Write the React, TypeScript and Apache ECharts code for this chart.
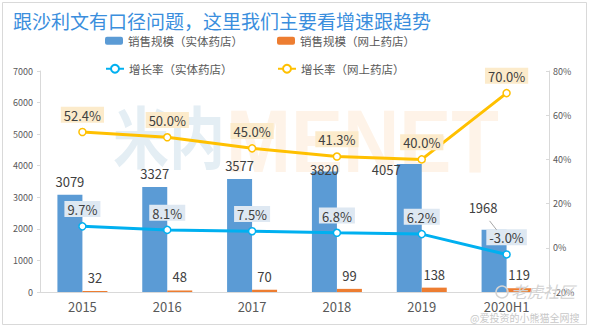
import React, { useEffect, useRef } from "react";
import * as echarts from "echarts";

const categories = ["2015", "2016", "2017", "2018", "2019", "2020H1"];
const salesPhysical = [3079, 3327, 3577, 3820, 4057, 1968];
const salesOnline = [32, 48, 70, 99, 138, 119];
const growthPhysical = [9.7, 8.1, 7.5, 6.8, 6.2, -3.0];
const growthOnline = [52.4, 50.0, 45.0, 41.3, 40.0, 70.0];
const leftTicks = { min: 0, max: 7000, interval: 1000 };
const rightTicks = { min: -20, max: 80, interval: 20 };

const FONT = "'Noto Sans CJK SC', 'Noto Sans', sans-serif";

export default function App() {
  const ref = useRef<HTMLDivElement>(null);
  useEffect(() => {
    if (!ref.current) return;
    const chart = echarts.init(ref.current, undefined, { renderer: "svg" });
    const legendText = { fontSize: 11.5, color: "#595959", fontFamily: FONT };
    const pctLabel = (bg: string) => ({
      show: true,
      position: "top",
      distance: 5,
      formatter: (p: any) => Number(p.value).toFixed(1) + "%",
      fontSize: 13,
      color: "#404040",
      fontFamily: FONT,
      backgroundColor: bg,
      padding: [2, 3, 1, 3],
    });
    const graphics: any[] = [
      {
        type: "rect",
        z: -10,
        shape: { x: 2.5, y: 2.5, width: 584, height: 322 },
        style: { fill: "none", stroke: "#D9D9D9", lineWidth: 1 },
      },
      {
        type: "text",
        z: -10,
        x: 113,
        y: 100,
        scaleY: 1.2,
        style: { text: "米内", font: "bold 56px 'Noto Sans CJK SC'", fill: "#E4EEF4" },
      },
      {
        type: "text",
        z: -10,
        x: 226,
        y: 96,
        scaleY: 1.15,
        style: { text: "MENET", font: "bold 78px 'Liberation Sans'", fill: "#FEF3E8" },
      },
      {
        type: "circle",
        z: 50,
        shape: { cx: 502, cy: 292, r: 6 },
        style: { fill: "none", stroke: "#D4D4D4", lineWidth: 1.5 },
      },
      {
        type: "text",
        z: 50,
        x: 511,
        y: 283,
        style: { text: "老虎社区", font: "italic 16px 'Noto Sans CJK SC'", fill: "#D2D2D2" },
      },
      {
        type: "text",
        z: 50,
        x: 470,
        y: 312,
        style: { text: "@爱投资的小熊猫全网搜", font: "10px 'Noto Sans CJK SC'", fill: "#C8C8C8" },
      },
    ];
    chart.setOption({
      animation: false,
      backgroundColor: "#ffffff",
      textStyle: { fontFamily: FONT },
      title: {
        text: "跟沙利文有口径问题，这里我们主要看增速跟趋势",
        left: 8,
        top: 6,
        textStyle: { fontSize: 19, color: "#3A8EDD", fontWeight: "normal", fontFamily: FONT },
      },
      graphic: graphics,
      legend: [
        { left: 100, top: 30, itemWidth: 18, itemHeight: 8, textStyle: legendText, data: ["销售规模（实体药店）"] },
        { left: 272, top: 30, itemWidth: 18, itemHeight: 8, textStyle: legendText, data: ["销售规模（网上药店）"] },
        { left: 100, top: 58, itemWidth: 18, itemHeight: 10, textStyle: legendText, data: ["增长率（实体药店）"] },
        { left: 272, top: 58, itemWidth: 18, itemHeight: 10, textStyle: legendText, data: ["增长率（网上药店）"] },
      ],
      grid: { left: 40, right: 41, top: 71, bottom: 37, containLabel: false },
      xAxis: {
        type: "category",
        data: categories,
        axisLine: { lineStyle: { color: "#D9D9D9" } },
        axisTick: { show: false },
        axisLabel: { fontSize: 13, color: "#595959", margin: 8, fontFamily: FONT },
      },
      yAxis: [
        {
          type: "value",
          ...leftTicks,
          axisLine: { show: true, lineStyle: { color: "#D9D9D9" } },
          axisTick: { show: true, length: 3, lineStyle: { color: "#D9D9D9" } },
          splitLine: { show: false },
          axisLabel: { fontSize: 9, color: "#595959", margin: 7, formatter: (v: number) => String(v) },
        },
        {
          type: "value",
          ...rightTicks,
          position: "right",
          axisLine: { show: true, lineStyle: { color: "#D9D9D9" } },
          axisTick: { show: true, inside: true, length: 3, lineStyle: { color: "#D9D9D9" } },
          splitLine: { show: false },
          axisLabel: { fontSize: 9, color: "#595959", margin: 4, formatter: "{value}%" },
        },
      ],
      series: [
        {
          name: "销售规模（实体药店）",
          type: "bar",
          data: salesPhysical,
          barWidth: 25,
          barGap: "0%",
          itemStyle: { color: "#5B9BD5" },
          label: { show: true, position: "top", distance: 7, fontSize: 13, color: "#404040", fontFamily: FONT },
          labelLayout: (p: any) => {
            if (p.dataIndex === 3) return { dy: 12 };
            if (p.dataIndex === 4) return { dx: -23, dy: 19 };
            if (p.dataIndex === 5) return { dx: -11, dy: -9 };
            return {};
          },
        },
        {
          name: "销售规模（网上药店）",
          type: "bar",
          data: salesOnline,
          barWidth: 25,
          barGap: "0%",
          itemStyle: { color: "#ED7D31" },
          label: { show: true, position: "top", distance: 7, fontSize: 13, color: "#404040", fontFamily: FONT },
        },
        {
          name: "增长率（实体药店）",
          type: "line",
          yAxisIndex: 1,
          data: growthPhysical,
          symbol: "circle",
          symbolSize: 7,
          z: 5,
          lineStyle: { color: "#00B0F0", width: 3 },
          itemStyle: { color: "#ffffff", borderColor: "#00B0F0", borderWidth: 1.5 },
          label: pctLabel("#DEE8F2"),
        },
        {
          name: "增长率（网上药店）",
          type: "line",
          yAxisIndex: 1,
          data: growthOnline,
          symbol: "circle",
          symbolSize: 7,
          z: 5,
          lineStyle: { color: "#FFC000", width: 3 },
          itemStyle: { color: "#ffffff", borderColor: "#FFC000", borderWidth: 1.5 },
          label: pctLabel("#FCEBCB"),
        },
      ],
    });
    // leader line for the moved 2020H1 label, placed via the chart's own scales
    const last = salesPhysical.length - 1;
    const pt = chart.convertToPixel({ xAxisIndex: 0, yAxisIndex: 0 }, [last, salesPhysical[last]]) as number[];
    if (pt && isFinite(pt[0])) {
      chart.setOption({
        graphic: [
          ...graphics,
          {
            type: "line",
            z: 20,
            shape: { x1: pt[0] - 17, y1: pt[1] - 9, x2: pt[0] - 10, y2: pt[1] },
            style: { stroke: "#A6A6A6", lineWidth: 1 },
          },
        ],
      });
    }
    return () => chart.dispose();
  }, []);
  return <div ref={ref} style={{ width: 590, height: 329, position: "absolute", left: 0, top: 0 }} />;
}
